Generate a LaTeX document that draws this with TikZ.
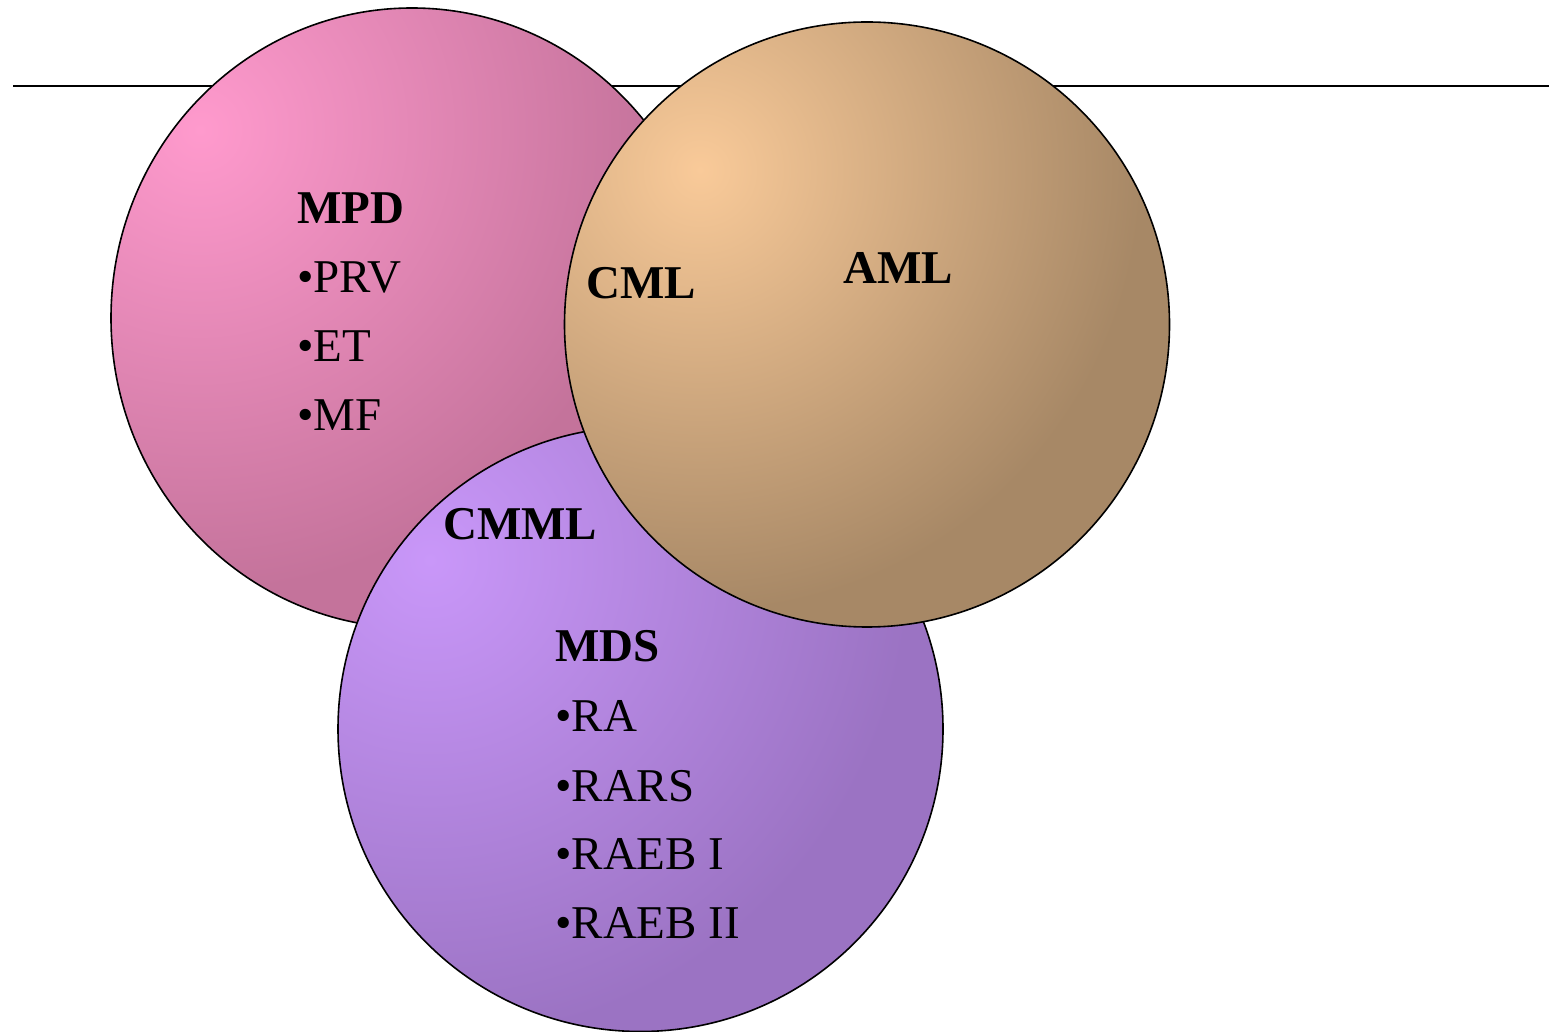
\documentclass[tikz,border=0pt]{standalone}
\usepackage{fontspec}
\setmainfont{Liberation Serif}
\definecolor{pinkL}{HTML}{FF9ACD}
\definecolor{pinkD}{HTML}{C4739B}
\definecolor{tanL}{HTML}{F9CA99}
\definecolor{tanD}{HTML}{A78866}
\definecolor{purL}{HTML}{C997F9}
\definecolor{purD}{HTML}{9B73C3}
\pgfdeclareradialshading{pinkshade}{\pgfpoint{0bp}{0bp}}{color(0bp)=(pinkL); color(460bp)=(pinkD); color(900bp)=(pinkD)}
\pgfdeclareradialshading{tanshade}{\pgfpoint{0bp}{0bp}}{color(0bp)=(tanL); color(440bp)=(tanD); color(900bp)=(tanD)}
\pgfdeclareradialshading{purshade}{\pgfpoint{0bp}{0bp}}{color(0bp)=(purL); color(480bp)=(purD); color(900bp)=(purD)}
\tikzset{
  blob/.style={draw=black, line width=1.6pt},
  shadebox/.style={inner sep=0pt, outer sep=0pt, anchor=center},
  head/.style={anchor=base west, inner sep=0pt, font=\fontsize{47}{56}\selectfont\bfseries},
  item/.style={anchor=base west, inner sep=0pt, font=\fontsize{47}{56}\selectfont},
}
\begin{document}
\begin{tikzpicture}[x=1pt,y=1pt]
\useasboundingbox (0,0) rectangle (1549,1031);
\coordinate (L1) at (13,945);
\coordinate (L2) at (1549,945);
\draw[line width=2.6pt] (L1) -- (L2);
% pink (MPD)
\begin{scope}
\clip (412,713) ellipse [x radius=301, y radius=310];
\node[shadebox] (pinkfill) at (200,901) {\pgfuseshading{pinkshade}};
\end{scope}
\draw[blob] (412,713) ellipse [x radius=301, y radius=310];
% purple (MDS)
\begin{scope}
\clip (640.5,302) circle [radius=302.5];
\node[shadebox] (purfill) at (430,471) {\pgfuseshading{purshade}};
\end{scope}
\draw[blob] (640.5,302) circle [radius=302.5];
% tan (AML)
\begin{scope}
\clip (867,706.5) circle [radius=302.5];
\node[shadebox] (tanfill) at (700,861) {\pgfuseshading{tanshade}};
\end{scope}
\draw[blob] (867,706.5) circle [radius=302.5];
% texts
\node[head] (mpd) at (297,807) {MPD};
\node[item] (prv) at (297,738) {•PRV};
\node[item] (et) at (297,669) {•ET};
\node[item] (mf) at (297,600) {•MF};
\node[head] (cml) at (586,732) {CML};
\node[head] (aml) at (843,747) {AML};
\node[head] (cmml) at (443,491) {CMML};
\node[head] (mds) at (555,369) {MDS};
\node[item] (ra) at (555,299) {•RA};
\node[item] (rars) at (555,230) {•RARS};
\node[item] (raeb1) at (555,162) {•RAEB I};
\node[item] (raeb2) at (555,93) {•RAEB II};
\end{tikzpicture}
\end{document}
